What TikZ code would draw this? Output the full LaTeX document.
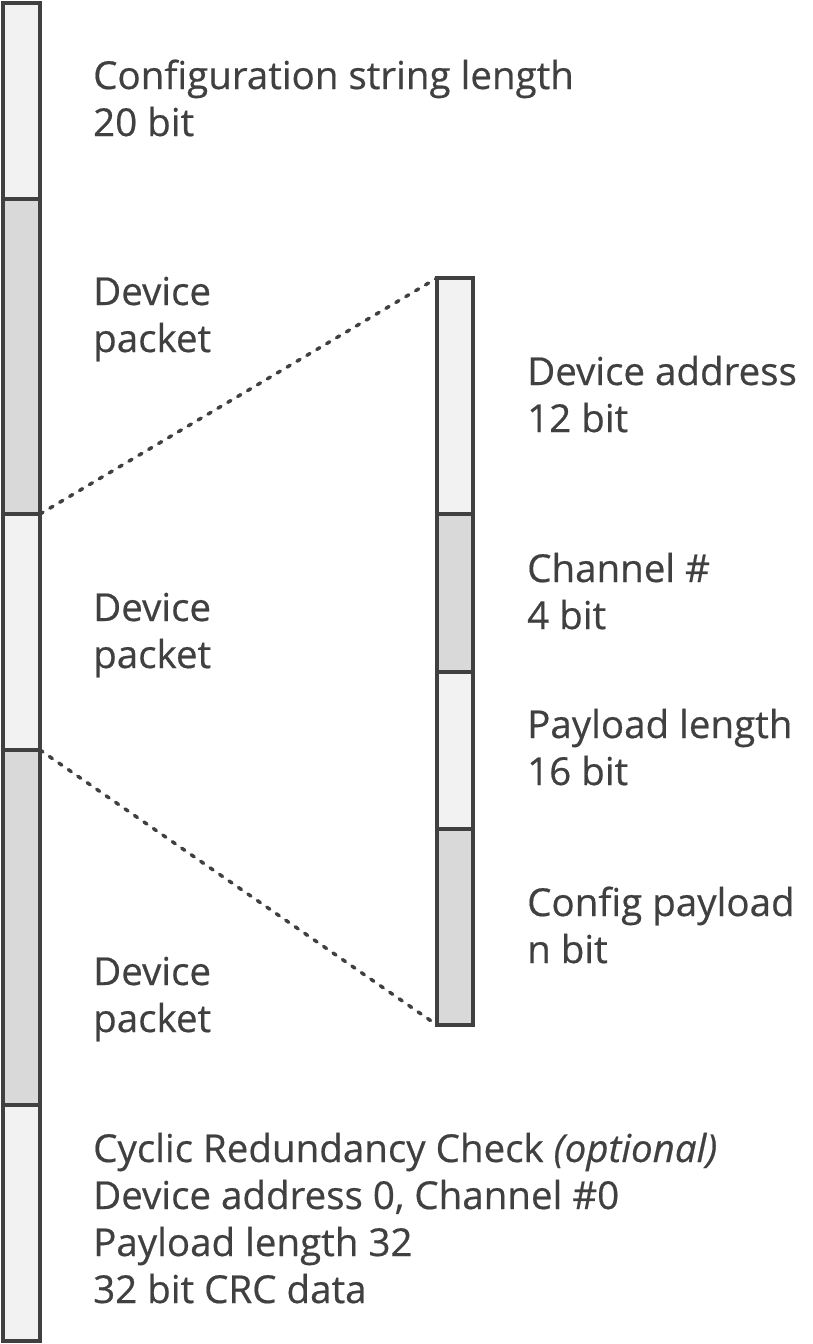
\documentclass[tikz,border=0pt]{standalone}
\usepackage{fontspec}
\setmainfont{Open Sans}[FakeBold=0.5]
\begin{document}
\definecolor{edge}{HTML}{404040}
\definecolor{lightfill}{HTML}{F2F2F2}
\definecolor{darkfill}{HTML}{D9D9D9}
\definecolor{ink}{HTML}{404040}
\begin{tikzpicture}[x=1pt,y=-1pt,
  seg/.style={draw=edge,line width=4pt,inner sep=0pt,outer sep=0pt,anchor=north west},
  seglight/.style={seg,fill=lightfill},
  segdark/.style={seg,fill=darkfill},
  lbl/.style={text=ink,font=\fontsize{38.5}{47}\selectfont,align=left,inner sep=0pt,anchor=base west},
  zoomline/.style={draw=edge,line width=3.5pt,line cap=round,dash pattern=on 3.5pt off 8pt}]
\useasboundingbox (0,0) rectangle (813,1344);
% left bar
\node[seglight,minimum width=37pt,minimum height=196pt] (a1) at (3,3) {};
\node[segdark,minimum width=37pt,minimum height=315pt] (a2) at (3,199) {};
\node[seglight,minimum width=37pt,minimum height=236pt] (a3) at (3,514) {};
\node[segdark,minimum width=37pt,minimum height=355pt] (a4) at (3,750) {};
\node[seglight,minimum width=37pt,minimum height=236pt] (a5) at (3,1105) {};
% right bar
\node[seglight,minimum width=36pt,minimum height=236pt] (b1) at (437,278) {};
\node[segdark,minimum width=36pt,minimum height=158pt] (b2) at (437,514) {};
\node[seglight,minimum width=36pt,minimum height=157pt] (b3) at (437,672) {};
\node[segdark,minimum width=36pt,minimum height=196pt] (b4) at (437,829) {};
% zoom lines
\draw[zoomline] (a2.south east) -- (b1.north west);
\draw[zoomline] (a4.north east) -- (b4.south west);
% labels (anchor = baseline of last line)
\node[lbl] (t1) at (93,136) {Configuration string length\\20 bit};
\node[lbl] (t2) at (93,352) {Device\\packet};
\node[lbl] (t3) at (93,668) {Device\\packet};
\node[lbl] (t4) at (93,1032) {Device\\packet};
\node[lbl] (t5) at (93,1303) {Cyclic Redundancy Check \textit{(optional)}\\Device address 0, Channel \#0\\Payload length 32\\32 bit CRC data};
\node[lbl] (r1) at (527,432) {Device address\\12 bit};
\node[lbl] (r2) at (527,629) {Channel \#\\4 bit};
\node[lbl] (r3) at (527,785) {Payload length\\16 bit};
\node[lbl] (r4) at (527,963) {Config payload\\n bit};
\end{tikzpicture}
\end{document}
